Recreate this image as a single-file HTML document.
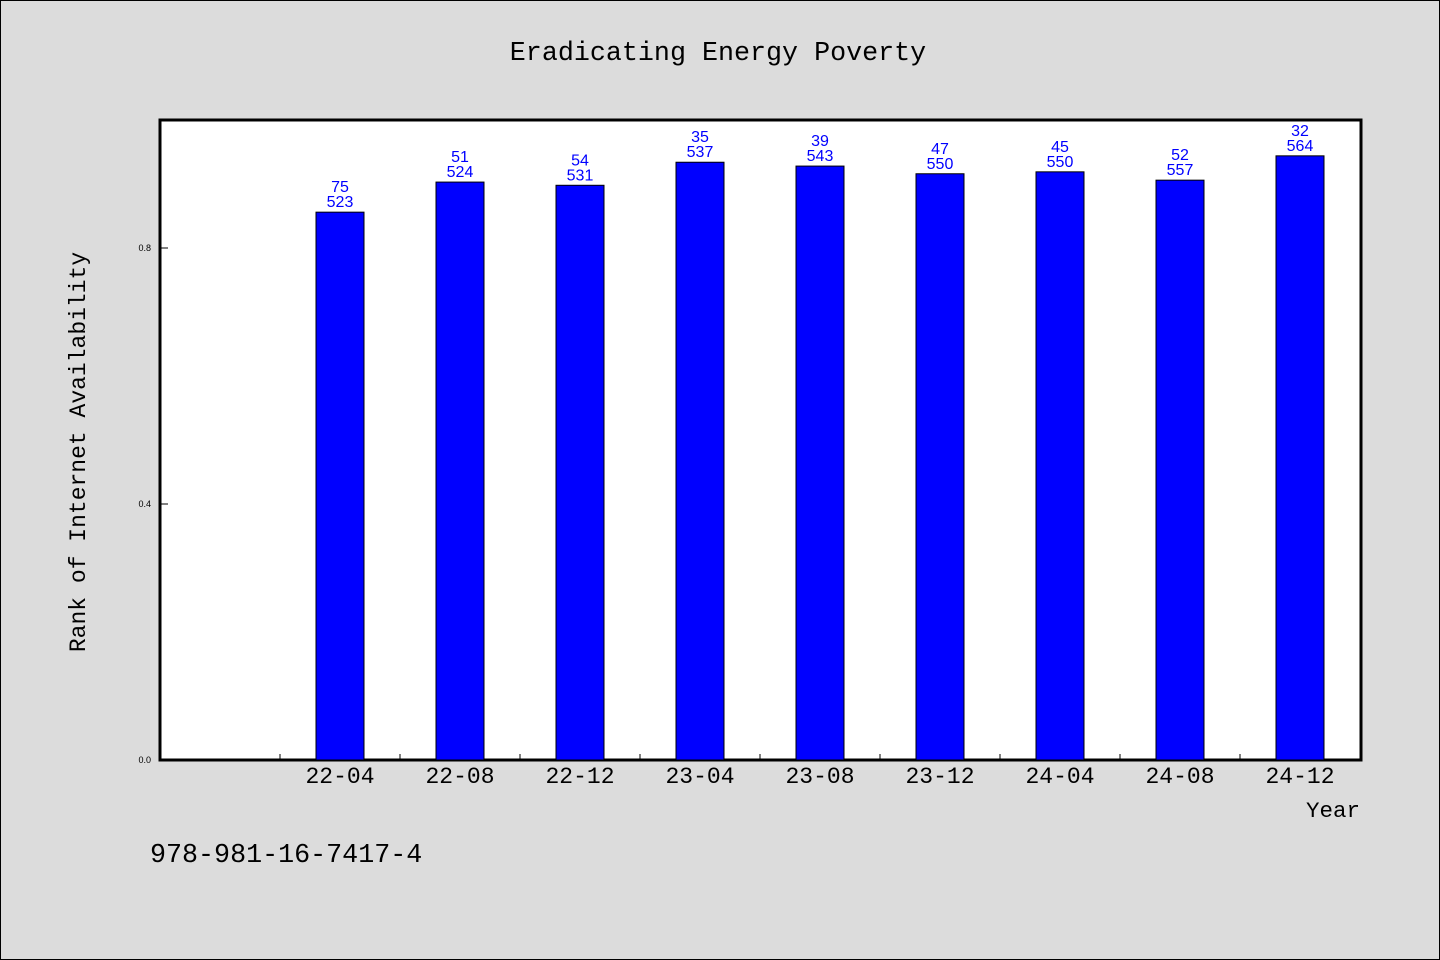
<!DOCTYPE html>
<html><head><meta charset="utf-8"><style>
body{margin:0;background:#dcdcdc;}
svg{display:block}
.mono{font-family:"Liberation Mono","WenQuanYi Zen Hei",monospace;fill:#000}
.lbl{font-family:"Liberation Sans",sans-serif;font-size:16px;fill:#0000ff}
</style></head><body>
<svg id="chart" width="1440" height="960" xmlns="http://www.w3.org/2000/svg">
<rect x="0.5" y="0.5" width="1439" height="959" fill="#dcdcdc" stroke="#000"/>
<text class="mono" x="718" y="60" text-anchor="middle" font-size="26.7">Eradicating Energy Poverty</text>
<rect x="160" y="120" width="1201" height="640" fill="#fff" stroke="#000" stroke-width="3"/>
<text class="mono" transform="translate(85,452) rotate(-90)" text-anchor="middle" font-size="23">Rank of Internet Availability</text>
<text class="mono" x="1360" y="817" text-anchor="end" font-size="22.5">Year</text>
<text class="mono" x="150" y="862" font-size="26.7">978-981-16-7417-4</text>
<g id="ticks"></g><g id="bars"></g>
</svg>
<script>
const categories=["22-04","22-08","22-12","23-04","23-08","23-12","24-04","24-08","24-12"];
const values=[0.856,0.903,0.898,0.934,0.928,0.916,0.919,0.906,0.944];
const topLabels=["75","51","54","35","39","47","45","52","32"];
const bottomLabels=["523","524","531","537","543","550","550","557","564"];
const yTicks=[0.0,0.4,0.8];
const NS="http://www.w3.org/2000/svg";
const x0=160,slot=120,yBase=760,yScale=640;
const X=i=>x0+slot*(i+1)+slot/2;
const Y=v=>yBase-v*yScale;
function mk(t,a,p){const e=document.createElementNS(NS,t);for(const k in a)e.setAttribute(k,a[k]);p.appendChild(e);return e;}
const tg=document.getElementById('ticks'),bg=document.getElementById('bars');
yTicks.forEach(v=>{
 const l=mk('line',{x1:160,x2:168,y1:Y(v),y2:Y(v),stroke:'#000'},tg);
 
 
 const t=mk('text',{x:151,y:Y(v)+3,'text-anchor':'end','font-size':9,'font-family':'Liberation Sans, sans-serif'},tg);
 t.textContent=v.toFixed(1);
 
 
});
for(let i=1;i<=9;i++){
 const l=mk('line',{x1:x0+slot*i,x2:x0+slot*i,y1:754,y2:760,stroke:'#000'},tg);
 
 
}
categories.forEach((c,i)=>{
 const cx=X(i);
 const r=mk('rect',{x:cx-24,y:Y(values[i]),width:48,height:yBase-Y(values[i]),fill:'#0000ff',stroke:'#000'},bg);
 
 
 const t1=mk('text',{x:cx,y:Y(values[i])-20,'text-anchor':'middle',class:'lbl'},bg);
 t1.textContent=topLabels[i];
 
 
 const t2=mk('text',{x:cx,y:Y(values[i])-5,'text-anchor':'middle',class:'lbl'},bg);
 t2.textContent=bottomLabels[i];
 
 
 const xl=mk('text',{x:cx,y:783,'text-anchor':'middle',class:'mono','font-size':23},bg);
 xl.textContent=c;
 
 
});
</script>
</body></html>
